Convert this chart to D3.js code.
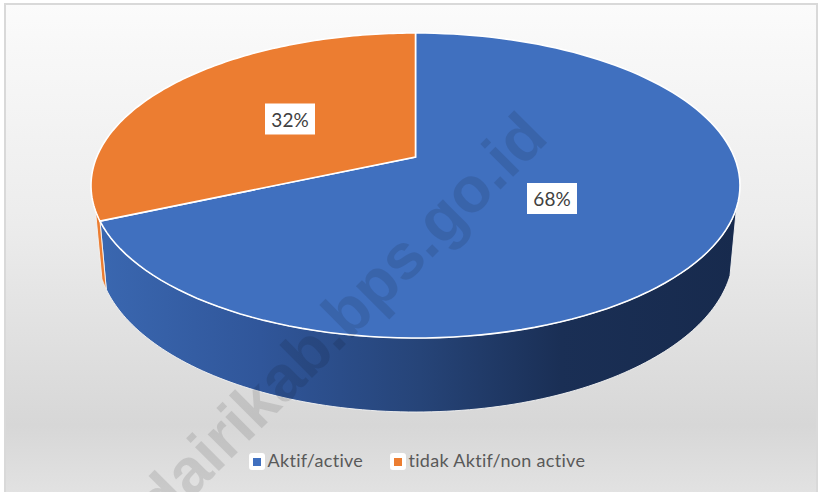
<!DOCTYPE html>
<html>
<head>
<meta charset="utf-8">
<script src="https://cdn.jsdelivr.net/npm/d3@7"></script>
<style>
html, body { margin: 0; padding: 0; background: #fff; }
svg { display: block; }
text { font-family: Lato, "Open Sans", sans-serif; }
</style>
</head>
<body>
<div class="svgContainer"></div>
<script>
const categories = ["Aktif/active", "tidak Aktif/non active"];
const values = [68.4, 31.6];
const colors = ["#4070bf", "#ec7d31"];
const watermark = "dairikab.bps.go.id";

let w = 821;
let h = 492;

// perspective squeeze, near edge of the disc comes out bigger
let k = -0.187;
let topDisc = { cx: 415.5, t: 33, b: 338, rx: 324.5 };
let lowDisc = { cx: 415.5, t: 92, b: 412, rx: 318 };

function project(disc, a) {
    let A = disc.rx * Math.sqrt(1 - k * k);
    let B = (disc.b - disc.t) * (1 - k * k) / 2;
    let y0 = disc.b - B / (1 + k);
    let u = Math.sin(a);
    let v = -Math.cos(a);
    let den = 1 + k * v;
    return [disc.cx + A * u / den, y0 + B * v / den];
}

function centre(disc) {
    let B = (disc.b - disc.t) * (1 - k * k) / 2;
    return [disc.cx, disc.b - B / (1 + k)];
}

function arcPts(disc, a0, a1) {
    let n = 120;
    return d3.range(n + 1).map(i => project(disc, a0 + (a1 - a0) * i / n));
}

const svg = d3.select(".svgContainer")
    .append("svg")
    .attr("width", w)
    .attr("height", h);

const defs = svg.append("defs");

let bg = defs.append("linearGradient")
    .attr("id", "bg")
    .attr("x1", 0).attr("x2", 0).attr("y1", 0).attr("y2", 1);
bg.append("stop").attr("offset", "0%").attr("stop-color", "#fbfbfb");
bg.append("stop").attr("offset", "45%").attr("stop-color", "#ececec");
bg.append("stop").attr("offset", "86%").attr("stop-color", "#d7d7d7");
bg.append("stop").attr("offset", "100%").attr("stop-color", "#e2e2e2");

let wall = defs.append("linearGradient")
    .attr("id", "wall")
    .attr("gradientUnits", "userSpaceOnUse")
    .attr("x1", 100).attr("x2", 740).attr("y1", 0).attr("y2", 0);
wall.append("stop").attr("offset", "0%").attr("stop-color", "#3a67b0");
wall.append("stop").attr("offset", "25%").attr("stop-color", "#30569a");
wall.append("stop").attr("offset", "50%").attr("stop-color", "#264478");
wall.append("stop").attr("offset", "72%").attr("stop-color", "#1a2f55");
wall.append("stop").attr("offset", "100%").attr("stop-color", "#172a4d");

svg.append("rect")
    .attr("x", 5).attr("y", 4)
    .attr("width", 812).attr("height", 490)
    .attr("fill", "url(#bg)")
    .attr("stroke", "#d9d9d9")
    .attr("stroke-width", 2);

const pie = d3.pie().sort(null).value(d => d);
const slices = pie(values);
const line = d3.line();

// side wall, only the part that faces the viewer
let wallFrom = 109 * Math.PI / 180;
let wallTo = 250 * Math.PI / 180;

slices.forEach((s, i) => {
    let a0 = Math.max(s.startAngle, wallFrom);
    let a1 = Math.min(s.endAngle, wallTo);
    if (a1 <= a0) return;
    let pts = arcPts(topDisc, a0, a1).concat(arcPts(lowDisc, a1, a0));
    svg.append("path")
        .attr("d", line(pts) + "Z")
        .attr("fill", i == 0 ? "url(#wall)" : colors[1])
        .attr("stroke", "#f4f4f4")
        .attr("stroke-width", 0.9);
});

slices.forEach((s, i) => {
    let pts = [centre(topDisc)].concat(arcPts(topDisc, s.startAngle, s.endAngle));
    svg.append("path")
        .attr("d", line(pts) + "Z")
        .attr("fill", colors[i])
        .attr("stroke", "#fff")
        .attr("stroke-width", 1.6);
});

// data labels
let labelPos = [[552, 198.5], [290, 119]];
let pct = d3.format(".0f");
values.forEach((v, i) => {
    svg.append("rect")
        .attr("x", labelPos[i][0] - 25)
        .attr("y", labelPos[i][1] - 15.5)
        .attr("width", 50)
        .attr("height", 31)
        .attr("fill", "#fff");
    svg.append("text")
        .attr("x", labelPos[i][0])
        .attr("y", labelPos[i][1] + 7.5)
        .attr("text-anchor", "middle")
        .attr("font-size", 19)
        .attr("fill", "#404040")
        .text(pct(v) + "%");
});

// legend
let legendX = [249, 390];
categories.forEach((c, i) => {
    svg.append("rect")
        .attr("x", legendX[i]).attr("y", 453)
        .attr("width", 16).attr("height", 17)
        .attr("rx", 3)
        .attr("fill", "#fff");
    svg.append("rect")
        .attr("x", legendX[i] + 4).attr("y", 458)
        .attr("width", 8).attr("height", 8)
        .attr("fill", colors[i]);
    svg.append("text")
        .attr("x", legendX[i] + 18.5)
        .attr("y", 467)
        .attr("font-size", 18)
        .attr("letter-spacing", 0.3)
        .attr("fill", "#595959")
        .text(c);
});

svg.append("text")
    .attr("transform", "translate(163,527) rotate(-45)")
    .style("font-family", "'Liberation Sans'")
    .attr("font-weight", "bold")
    .attr("font-size", 64)
    .attr("fill", "#000")
    .attr("opacity", 0.1)
    .text(watermark);
</script>
</body>
</html>
